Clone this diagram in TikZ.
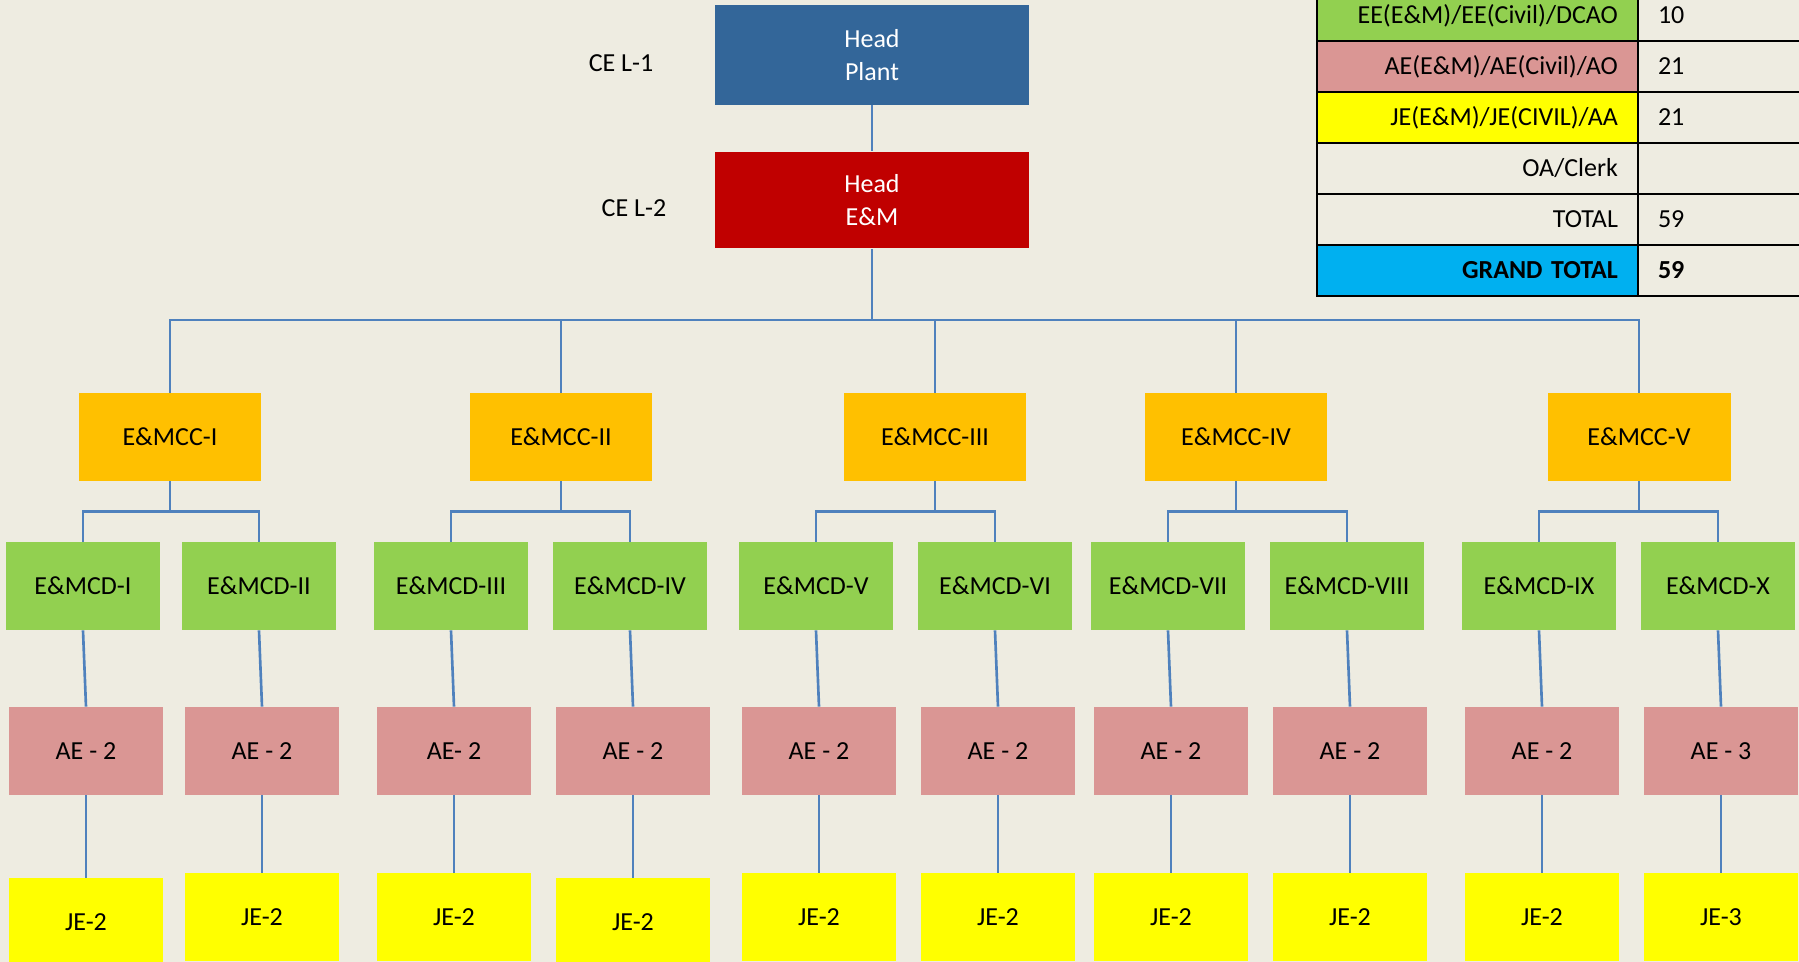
\documentclass[tikz,border=0pt]{standalone}
\usepackage{fontspec}
\setmainfont{Carlito}
\usetikzlibrary{positioning}

\definecolor{bgtan}{HTML}{EEECE1}
\definecolor{plantblue}{RGB}{51,102,153}
\definecolor{emred}{HTML}{C00000}
\definecolor{ccorange}{HTML}{FFC000}
\definecolor{cdgreen}{HTML}{92D050}
\definecolor{aepink}{HTML}{DA9694}
\definecolor{jeyellow}{HTML}{FFFF00}
\definecolor{gtblue}{HTML}{00B0F0}
\definecolor{linkblue}{HTML}{4F81BD}

\begin{document}
\begin{tikzpicture}[
    x = 0.02cm, y = 0.02cm,
    font = \fontsize{14.8}{18.8}\selectfont,
    conn/.style     = {draw=linkblue, line width=1.5pt},
    headbox/.style  = {rectangle, fill=plantblue, text=white, align=center,
                       minimum width=6.3cm, minimum height=2cm},
    ccbox/.style    = {rectangle, fill=ccorange, minimum width=3.66cm, minimum height=1.76cm},
    cdbox/.style    = {rectangle, fill=cdgreen, minimum width=3.08cm, minimum height=1.76cm},
    aebox/.style    = {rectangle, fill=aepink, minimum width=3.08cm, minimum height=1.76cm},
    jebox/.style    = {rectangle, fill=jeyellow, minimum width=3.08cm, minimum height=1.76cm},
    keycell/.style  = {rectangle, draw=black, line width=1.6pt, text width=5.62cm,
                       inner xsep=0.4cm, minimum height=1.02cm, align=right},
    numcell/.style  = {rectangle, draw=black, line width=1.6pt, text width=3.04cm,
                       inner xsep=0.4cm, minimum height=1.02cm, align=left},
]

\useasboundingbox (0,0) rectangle (1799,-962);
\fill[bgtan] (0,0) rectangle (1799,-962);
\clip (0,0) rectangle (1799,-962);

% top levels
\node[headbox]                                   (plant) at (872,-55)  {Head\\Plant};
\node[headbox, fill=emred, minimum height=1.94cm] (em)    at (872,-200) {Head\\E\&M};
\node (cel1) at (621,-63)  {CE L-1};
\node (cel2) at (634,-208) {CE L-2};

% circles
\node[ccbox] (cc1) at (170,-437)  {E\&MCC-I};
\node[ccbox] (cc2) at (561,-437)  {E\&MCC-II};
\node[ccbox] (cc3) at (935,-437)  {E\&MCC-III};
\node[ccbox] (cc4) at (1236,-437) {E\&MCC-IV};
\node[ccbox] (cc5) at (1639,-437) {E\&MCC-V};

% divisions
\node[cdbox] (cd1)  at (83,-586)   {E\&MCD-I};
\node[cdbox] (cd2)  at (259,-586)  {E\&MCD-II};
\node[cdbox] (cd3)  at (451,-586)  {E\&MCD-III};
\node[cdbox] (cd4)  at (630,-586)  {E\&MCD-IV};
\node[cdbox] (cd5)  at (816,-586)  {E\&MCD-V};
\node[cdbox] (cd6)  at (995,-586)  {E\&MCD-VI};
\node[cdbox] (cd7)  at (1168,-586) {E\&MCD-VII};
\node[cdbox] (cd8)  at (1347,-586) {E\&MCD-VIII};
\node[cdbox] (cd9)  at (1539,-586) {E\&MCD-IX};
\node[cdbox] (cd10) at (1718,-586) {E\&MCD-X};

% assistant engineers
\node[aebox] (ae1)  at (86,-751)   {AE - 2};
\node[aebox] (ae2)  at (262,-751)  {AE - 2};
\node[aebox] (ae3)  at (454,-751)  {AE- 2};
\node[aebox] (ae4)  at (633,-751)  {AE - 2};
\node[aebox] (ae5)  at (819,-751)  {AE - 2};
\node[aebox] (ae6)  at (998,-751)  {AE - 2};
\node[aebox] (ae7)  at (1171,-751) {AE - 2};
\node[aebox] (ae8)  at (1350,-751) {AE - 2};
\node[aebox] (ae9)  at (1542,-751) {AE - 2};
\node[aebox] (ae10) at (1721,-751) {AE - 3};

% junior engineers
\node[jebox] (je1)  at (86,-922)   {JE-2};
\node[jebox] (je2)  at (262,-917)  {JE-2};
\node[jebox] (je3)  at (454,-917)  {JE-2};
\node[jebox] (je4)  at (633,-922)  {JE-2};
\node[jebox] (je5)  at (819,-917)  {JE-2};
\node[jebox] (je6)  at (998,-917)  {JE-2};
\node[jebox] (je7)  at (1171,-917) {JE-2};
\node[jebox] (je8)  at (1350,-917) {JE-2};
\node[jebox] (je9)  at (1542,-917) {JE-2};
\node[jebox] (je10) at (1721,-917) {JE-3};

% summary table
\node[keycell, fill=cdgreen]  (k1) at (1477.5,-15.5)  {EE(E\&M)/EE(Civil)/DCAO};
\node[keycell, fill=aepink]   (k2) at (1477.5,-66.5)  {AE(E\&M)/AE(Civil)/AO};
\node[keycell, fill=jeyellow] (k3) at (1477.5,-117.5) {JE(E\&M)/JE(CIVIL)/AA};
\node[keycell]                (k4) at (1477.5,-168.5) {OA/Clerk};
\node[keycell]                (k5) at (1477.5,-219.5) {TOTAL};
\node[keycell, fill=gtblue, font=\fontsize{14.8}{18.8}\selectfont\bfseries]
                              (k6) at (1477.5,-270.5) {GRAND TOTAL};
\node[numcell] (n1) at (1734,-15.5)  {10};
\node[numcell] (n2) at (1734,-66.5)  {21};
\node[numcell] (n3) at (1734,-117.5) {21};
\node[numcell] (n4) at (1734,-168.5) {};
\node[numcell] (n5) at (1734,-219.5) {59};
\node[numcell, font=\fontsize{14.8}{18.8}\selectfont\bfseries]
               (n6) at (1734,-270.5) {59};

% connectors
\coordinate (bus) at (872,-320);
\draw[conn] (plant) -- (em);
\draw[conn] (em) -- (bus);
\draw[conn] (cc1.north) |- (bus) -| (cc5.north);
\draw[conn] (cc2.north) -- (cc2.north |- bus);
\draw[conn] (cc3.north) -- (cc3.north |- bus);
\draw[conn] (cc4.north) -- (cc4.north |- bus);

\draw[conn] (cc1.south) -- ++(0,-30) -| (cd1.north);
\draw[conn] (cc1.south) -- ++(0,-30) -| (cd2.north);
\draw[conn] (cc2.south) -- ++(0,-30) -| (cd3.north);
\draw[conn] (cc2.south) -- ++(0,-30) -| (cd4.north);
\draw[conn] (cc3.south) -- ++(0,-30) -| (cd5.north);
\draw[conn] (cc3.south) -- ++(0,-30) -| (cd6.north);
\draw[conn] (cc4.south) -- ++(0,-30) -| (cd7.north);
\draw[conn] (cc4.south) -- ++(0,-30) -| (cd8.north);
\draw[conn] (cc5.south) -- ++(0,-30) -| (cd9.north);
\draw[conn] (cc5.south) -- ++(0,-30) -| (cd10.north);

\draw[conn] (cd1.south)  -- (ae1.north);
\draw[conn] (cd2.south)  -- (ae2.north);
\draw[conn] (cd3.south)  -- (ae3.north);
\draw[conn] (cd4.south)  -- (ae4.north);
\draw[conn] (cd5.south)  -- (ae5.north);
\draw[conn] (cd6.south)  -- (ae6.north);
\draw[conn] (cd7.south)  -- (ae7.north);
\draw[conn] (cd8.south)  -- (ae8.north);
\draw[conn] (cd9.south)  -- (ae9.north);
\draw[conn] (cd10.south) -- (ae10.north);

\draw[conn] (ae1.south)  -- (je1.north);
\draw[conn] (ae2.south)  -- (je2.north);
\draw[conn] (ae3.south)  -- (je3.north);
\draw[conn] (ae4.south)  -- (je4.north);
\draw[conn] (ae5.south)  -- (je5.north);
\draw[conn] (ae6.south)  -- (je6.north);
\draw[conn] (ae7.south)  -- (je7.north);
\draw[conn] (ae8.south)  -- (je8.north);
\draw[conn] (ae9.south)  -- (je9.north);
\draw[conn] (ae10.south) -- (je10.north);

\end{tikzpicture}
\end{document}
